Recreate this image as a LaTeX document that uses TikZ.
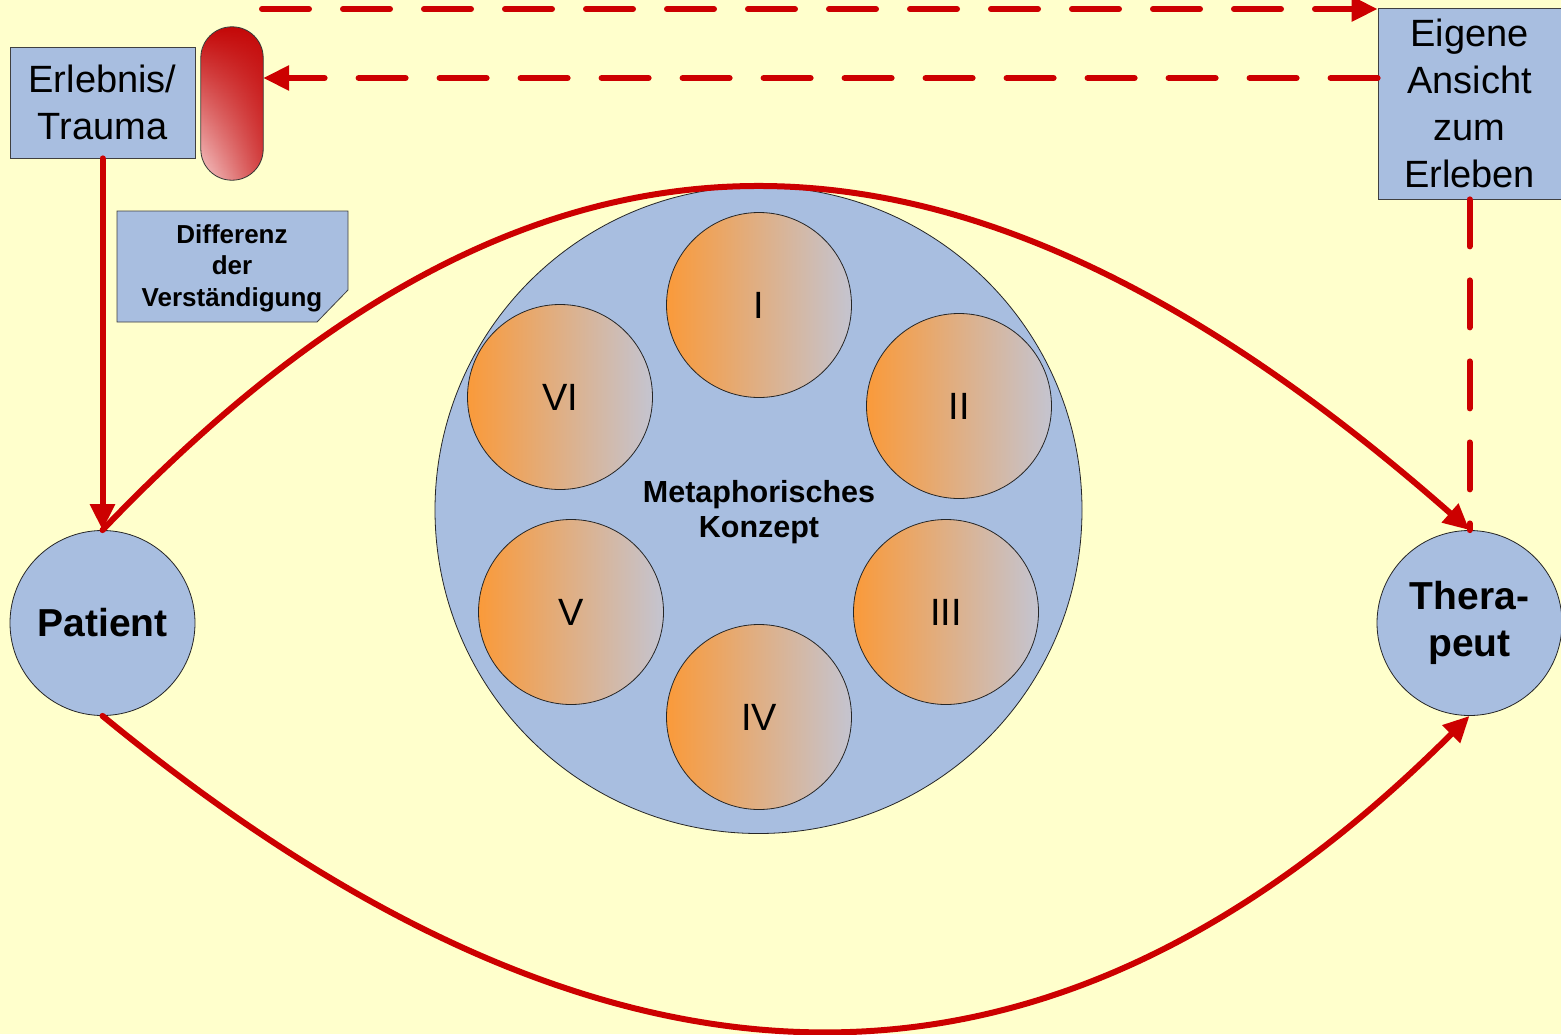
\documentclass[tikz,border=0pt]{standalone}
\usepackage{fontspec}
\setmainfont{Liberation Sans}
\usetikzlibrary{arrows.meta,fadings}

\definecolor{bgyellow}{HTML}{FFFFCC}
\definecolor{boxblue}{HTML}{A8BEE0}
\definecolor{linered}{HTML}{CC0000}
\definecolor{orangeL}{HTML}{FA9A3A}
\definecolor{greyR}{HTML}{C4C4D0}
\definecolor{capdark}{HTML}{C40808}
\definecolor{capmid}{HTML}{D84444}
\definecolor{caplight}{HTML}{F6CACA}

\tikzset{
  x=1pt, y=-1pt,
  bluebox/.style={draw=black!75, line width=0.8pt, fill=boxblue, inner sep=0pt, align=center},
  bluecircle/.style={circle, draw=black!85, line width=0.8pt, fill=boxblue, inner sep=0pt, minimum size=185pt, align=center},
  facet/.style={circle, draw=black!85, line width=0.8pt, left color=orangeL, right color=greyR, inner sep=0pt, minimum size=185pt, font=\fontsize{38}{46}\selectfont},
  redline/.style={draw=linered, line width=6pt, line cap=round},
  reddash/.style={redline, dash pattern=on 47pt off 34pt},
  tip/.style={-{Triangle[length=26pt,width=24pt]}},
  bigtext/.style={font=\fontsize{38}{47}\selectfont},
}

\begin{document}
\begin{tikzpicture}
\useasboundingbox (0,0) rectangle (1561,1034);
\fill[bgyellow] (0,0) rectangle (1561,1034);

% central concept with its six facets
\node[bluecircle, minimum size=647pt] (meta) at (758.5,510) {};
\node[font=\bfseries\fontsize{30.5}{35}\selectfont, align=center] (metatext) at (759,512) {Metaphorisches\\Konzept};
\node[facet] (f1) at (759,305) {I};
\node[facet] (f2) at (959,406) {II};
\node[facet] (f3) at (946,612) {III};
\node[facet] (f4) at (759,717) {IV};
\node[facet] (f5) at (571,612) {V};
\node[facet] (f6) at (560,397) {VI};

% persons
\node[bluecircle, font=\bfseries\fontsize{39}{47}\selectfont] (pat) at (102.5,623) {Patient};
\node[bluecircle, font=\bfseries\fontsize{39}{47}\selectfont] (ther) at (1469.5,623) {Thera-\\peut};

% boxes
\node[bluebox, bigtext, minimum width=185pt, minimum height=111pt] (erl) at (102.5,102.5) {Erlebnis/\\Trauma};
\node[bluebox, bigtext, minimum width=183pt, minimum height=191pt] (eig) at (1469.5,103.5) {Eigene\\Ansicht\\zum\\Erleben};

% red capsule: vertical fade, darkened towards the right edge
\node[rounded corners=31pt, minimum width=62pt, minimum height=153pt,
      top color=capdark, middle color=capmid, bottom color=caplight, inner sep=0pt] (cap) at (232,103.5) {};
\fill[capdark, rounded corners=31pt, path fading=west, fill opacity=0.7]
  (cap.south west) rectangle (cap.north east);
\draw[black!80, line width=0.8pt, rounded corners=31pt] (cap.south west) rectangle (cap.north east);

% note with cut corner
\path[bluebox] (117,211) -- (348,211) -- (348,290) -- (317,322) -- (117,322) -- cycle;
\node[font=\bfseries\fontsize{26}{31.5}\selectfont, align=center] (diff) at (232,268) {Differenz\\der\\Verständigung};

% connectors
\coordinate (topstart) at (262,9);
\coordinate (rowb) at (0,78);
\draw[reddash, tip] (topstart) -- (eig.north west |- topstart);
\draw[reddash, tip] (eig.west |- rowb) -- (cap.east |- rowb);
\draw[reddash] (eig.south) -- (ther.north);
\draw[redline, tip] (erl.south) -- (pat.north);
\draw[redline, tip] (pat.north) .. controls (538,74) and (951,74) .. (ther.north);
\draw[redline, tip] (pat.south) .. controls (613,1135) and (1050,1135) .. (ther.south);
\end{tikzpicture}
\end{document}
